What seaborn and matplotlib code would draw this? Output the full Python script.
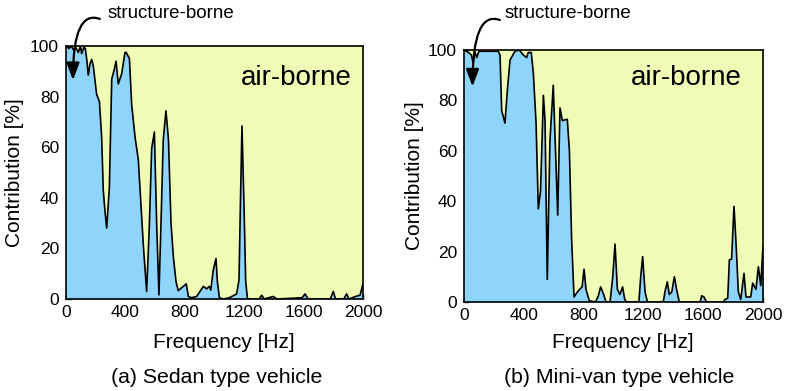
import numpy as np
import pandas as pd
import matplotlib
matplotlib.use("Agg")
import matplotlib.pyplot as plt
import seaborn as sns

# ---- data ----
sedan_freq = [0, 20, 35, 50, 65, 83, 98, 105, 121, 130, 140, 150, 162, 173, 184, 206, 225, 240, 251, 262,
              274, 292, 308, 322, 337, 352, 375, 397, 405, 427, 442, 465, 487, 498, 521, 543, 561, 577, 595, 611,
              626, 644, 655, 673, 690, 707, 723, 741, 756, 790, 810, 824, 845, 880, 925, 947, 965, 975, 992, 1010,
              1019, 1033, 1060, 1100, 1149, 1165, 1174, 1185, 1199, 1210, 1222, 1300, 1318, 1335, 1396, 1420, 1590,
              1610, 1630, 1780, 1800, 1815, 1870, 1890, 1905, 1950, 1980, 2000]
sedan_contrib = [100, 99, 100, 98.5, 99.5, 97.5, 100, 97, 99.5, 99, 94.5, 88.5, 93, 94.7, 92, 81, 78, 64, 43, 35,
                 28, 44, 87, 90, 94, 85, 89, 97.4, 97.5, 95, 77, 64, 55, 44, 21, 3, 28.6, 59.5, 66, 28.6,
                 1.6, 39, 63, 74.4, 63, 30, 16.7, 6.8, 3.3, 5, 6, 1, 0.5, 1, 5, 4, 5, 3.5, 11.5, 16,
                 7, 0.5, 0, 0.5, 2, 7.5, 36, 68.4, 36, 7, 0, 0, 1.5, 0, 1, 0, 0.5,
                 2, 0, 0, 3, 0, 0, 2, 0, 1, 1.5, 6]

van_freq = [0, 30, 50, 60, 75, 85, 100, 130, 180, 229, 241, 252, 274, 290, 308, 341, 370, 397, 419, 430,
            450, 464, 482, 497, 512, 531, 542, 557, 575, 597, 615, 627, 642, 658, 691, 705, 720, 736, 765, 790,
            803, 816, 838, 880, 899, 914, 934, 950, 977, 995, 1010, 1026, 1043, 1061, 1075, 1088, 1170, 1182,
            1195, 1211, 1227, 1333, 1344, 1360, 1373, 1390, 1407, 1422, 1440, 1580, 1590, 1605, 1622, 1735,
            1746, 1764, 1775, 1790, 1806, 1819, 1835, 1851, 1873, 1886, 1918, 1931, 1953, 1969, 1985, 2000]
van_contrib = [100, 99, 98, 95, 99, 97, 99.5, 99.5, 99.5, 99.5, 98, 76, 71, 84, 96, 99.5, 100, 98, 97, 99,
               99, 90.7, 71, 37, 44, 82, 72, 9, 64, 86, 55, 34.5, 77, 72, 72.5, 60, 24.6, 2, 4.5, 6,
               13, 5, 0.5, 0, 2.5, 6, 3, 0, 0, 10, 23, 5, 3, 6, 1, 0, 0, 10,
               18, 4, 0, 0, 4, 8, 3, 4, 10, 5, 0, 0, 2.5, 2, 0, 0,
               1, 1.5, 16.7, 17, 38, 24, 4, 1, 11.4, 2, 2, 7.5, 5, 14, 6.5, 22]

x_ticks = [0, 400, 800, 1200, 1600, 2000]
y_ticks = [0, 20, 40, 60, 80, 100]
captions = ["(a) Sedan type vehicle", "(b) Mini-van type vehicle"]

sns.set_style("ticks")
plt.rcParams['font.family'] = ['Liberation Sans', 'DejaVu Sans']
plt.rcParams['text.color'] = 'black'
plt.rcParams['axes.labelcolor'] = 'black'
plt.rcParams['xtick.color'] = 'black'
plt.rcParams['ytick.color'] = 'black'

BLUE = "#8fd4fa"
YELLOW = "#eefcb6"

fig = plt.figure(figsize=(7.85, 3.91), dpi=100)
W, H = 785, 391
ax1 = fig.add_axes([66 / W, (H - 299) / H, 297 / W, 253 / H])
ax2 = fig.add_axes([464 / W, (H - 302) / H, 299 / W, 252 / H])

panels = [
    (ax1, sedan_freq, sedan_contrib, captions[0], dict(lab_x=-0.175, xl_y=-0.17, cap_x=0.508, cap_y=-0.312,
                                                       air=(0.963, 0.875), txt=(0.141, 1.13), start=(0.114, 1.107),
                                                       tip=(47, 86.5))),
    (ax2, van_freq, van_contrib, captions[1], dict(lab_x=-0.167, xl_y=-0.159, cap_x=0.52, cap_y=-0.30,
                                                   air=(0.93, 0.889), txt=(0.137, 1.145), start=(0.12, 1.119),
                                                   tip=(57, 85.5))),
]

for ax, f, v, cap, p in panels:
    df = pd.DataFrame({"Frequency": f, "Contribution": v})
    ax.set_facecolor(YELLOW)
    ax.fill_between(df["Frequency"], 0, df["Contribution"], color=BLUE, lw=0, zorder=1)
    sns.lineplot(data=df, x="Frequency", y="Contribution", ax=ax, color="black", lw=1.2, zorder=2)
    ax.set_xlim(0, 2000)
    ax.set_ylim(0, 100)
    ax.set_xticks(x_ticks)
    ax.set_yticks(y_ticks)
    ax.set_yticks(np.arange(10, 100, 20), minor=True)
    ax.tick_params(axis="both", which="major", direction="in", length=3.5, width=1, labelsize=12.5)
    ax.tick_params(axis="y", which="minor", direction="in", length=2.5, width=0.8)
    ax.tick_params(axis="x", pad=4)
    ax.tick_params(axis="y", pad=5)
    for s in ax.spines.values():
        s.set_visible(True)
        s.set_linewidth(1.2)
        s.set_color("black")
        s.set_zorder(5)
    ax.set_xlabel("Frequency [Hz]", fontsize=15)
    ax.set_ylabel("Contribution [%]", fontsize=15)
    ax.yaxis.set_label_coords(p["lab_x"], 0.5)
    ax.yaxis.label.set_va("center")
    ax.xaxis.set_label_coords(0.53, p["xl_y"])
    ax.xaxis.label.set_va("center")
    ax.text(p["cap_x"], p["cap_y"], cap, transform=ax.transAxes, ha="center", va="center", fontsize=15.3)
    ax.text(p["air"][0], p["air"][1], "air-borne", transform=ax.transAxes, ha="right", va="center", fontsize=20)
    ax.text(p["txt"][0], p["txt"][1], "structure-borne", transform=ax.transAxes, ha="left", va="center",
            fontsize=13.5)
    ax.annotate("", xy=p["tip"], xycoords="data", xytext=p["start"], textcoords="axes fraction",
                annotation_clip=False,
                arrowprops=dict(arrowstyle="-|>,head_length=0.8,head_width=0.3",
                                connectionstyle="angle3,angleA=160,angleB=90",
                                color="black", lw=1.6, mutation_scale=13, shrinkA=0, shrinkB=0),
                zorder=6)

fig.savefig("out.png", dpi=100)
